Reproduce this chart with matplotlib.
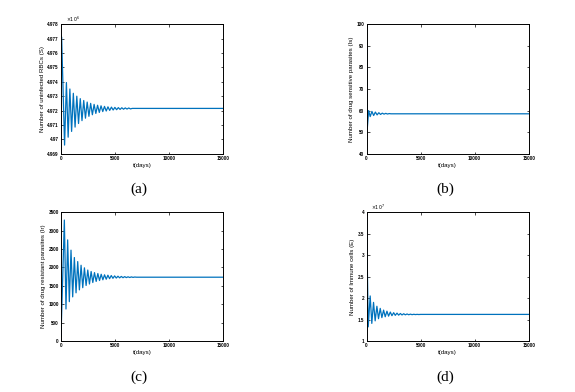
import matplotlib
matplotlib.use("Agg")
import matplotlib.pyplot as plt
from matplotlib.ticker import FuncFormatter

# (a) uninfected RBCs S, read at the turning points of the oscillation
t_s = [0, 60, 330, 500, 660, 820, 980, 1140, 1300, 1460, 1620, 1780, 1940, 2100,
       2260, 2420, 2580, 2740, 2900, 3060, 3220, 3380, 3540, 3700, 3860, 4020,
       4180, 4340, 4500, 4660, 4820, 4980, 5140, 5300, 5460, 5620, 5780, 5940,
       6100, 6260, 6420, 6580, 15000]
s_vals = [4977200, 4977100, 4969600, 4973950, 4970150, 4973500, 4970550, 4973200,
          4970850, 4973000, 4971100, 4972830, 4971300, 4972700, 4971470, 4972590,
          4971600, 4972500, 4971710, 4972430, 4971800, 4972370, 4971870, 4972330,
          4971930, 4972290, 4971970, 4972260, 4972010, 4972240, 4972040, 4972220,
          4972060, 4972205, 4972080, 4972195, 4972095, 4972185, 4972105, 4972180,
          4972115, 4972150, 4972150]

# (b) drug sensitive parasites Is
t_is = [0, 70, 200, 340, 500, 660, 820, 980, 1140, 1300, 1460, 1620, 1780, 1940,
        2100, 2260, 15000]
is_vals = [100, 51.5, 60.0, 57.2, 59.6, 57.7, 59.3, 58.0, 59.0, 58.2, 58.8, 58.35,
           58.7, 58.4, 58.6, 58.5, 58.5]

# (c) drug resistant parasites Ir
t_ir = [0, 310, 460, 615, 770, 925, 1080, 1235, 1390, 1545, 1700, 1855, 2010, 2165,
        2320, 2475, 2630, 2785, 2940, 3095, 3250, 3405, 3560, 3715, 3870, 4025,
        4180, 4335, 4490, 4645, 4800, 4955, 5110, 5265, 5420, 5575, 5730, 5885,
        6040, 6195, 6350, 6505, 6660, 6815, 6970, 15000]
ir_vals = [120, 3290, 870, 2750, 1070, 2470, 1200, 2270, 1310, 2160, 1390, 2060,
           1450, 1990, 1510, 1930, 1550, 1890, 1590, 1860, 1620, 1835, 1645, 1815,
           1665, 1800, 1680, 1790, 1695, 1780, 1705, 1770, 1712, 1762, 1717, 1756,
           1721, 1751, 1724, 1746, 1727, 1743, 1730, 1740, 1735, 1735]

# (d) immune cells E
t_e = [0, 160, 340, 490, 650, 800, 960, 1110, 1270, 1420, 1580, 1730, 1890, 2040,
       2200, 2350, 2510, 2660, 2820, 2970, 3130, 3280, 3440, 3590, 3750, 3900,
       4060, 4210, 4370, 4520, 4680, 4830, 5000, 15000]
e_vals = [4.0e7, 1.33e7, 2.05e7, 1.41e7, 1.90e7, 1.47e7, 1.81e7, 1.52e7, 1.76e7,
          1.545e7, 1.72e7, 1.565e7, 1.695e7, 1.58e7, 1.675e7, 1.59e7, 1.66e7,
          1.598e7, 1.65e7, 1.603e7, 1.641e7, 1.607e7, 1.635e7, 1.61e7, 1.63e7,
          1.612e7, 1.626e7, 1.614e7, 1.623e7, 1.616e7, 1.621e7, 1.617e7, 1.62e7,
          1.62e7]

x_ticks = [0, 5000, 10000, 15000]
LINE = "#0072BD"
W, H = 575, 392

fig = plt.figure(figsize=(W / 100, H / 100), dpi=100)
fig.patch.set_facecolor("white")


def make_panel(rect, t, y, ylim, yticks, ylabel, scale=None):
    ax = fig.add_axes(rect)
    ax.plot(t, y, color=LINE, lw=0.9)
    ax.set_xlim(0, 15000)
    ax.set_ylim(*ylim)
    ax.set_xticks(x_ticks)
    ax.set_yticks(yticks)
    if scale:
        ax.yaxis.set_major_formatter(FuncFormatter(lambda v, p: f"{round(v / 10**scale, 3):g}"))
        ax.text(0.03, 1.0, rf"$\times10^{{{scale}}}$", transform=ax.transAxes,
                fontsize=3.4, ha="left", va="bottom", family="Liberation Sans")
    else:
        ax.yaxis.set_major_formatter(FuncFormatter(lambda v, p: f"{v:g}"))
    ax.tick_params(direction="in", length=1.8, width=0.5, labelsize=3.3, pad=1.5,
                   top=True, right=True)
    for lab in ax.get_xticklabels() + ax.get_yticklabels():
        lab.set_family("Liberation Sans")
        lab.set_fontweight("bold")
    for sp in ax.spines.values():
        sp.set_linewidth(0.7)
    ax.set_xlabel("t(days)", fontsize=4.4, labelpad=1.5, family="Liberation Sans")
    ax.set_ylabel(ylabel, fontsize=4.4, labelpad=2, family="Liberation Sans")
    return ax


ax_w = 162.3 / W
make_panel([61 / W, 1 - 153.7 / H, ax_w, 129.4 / H], t_s, s_vals,
           (4.969e6, 4.978e6), [4.969e6 + i * 1000 for i in range(10)],
           "Number of uninfected RBCs (S)", scale=6)
make_panel([366.5 / W, 1 - 153.7 / H, ax_w, 129.4 / H], t_is, is_vals,
           (40, 100), [40, 50, 60, 70, 80, 90, 100],
           "Number of drug sensitive parasites (Is)")
make_panel([61 / W, 1 - 341 / H, ax_w, 128.7 / H], t_ir, ir_vals,
           (0, 3500), [0, 500, 1000, 1500, 2000, 2500, 3000, 3500],
           "Number of drug resistant parasites (Ir)")
make_panel([366.5 / W, 1 - 341 / H, ax_w, 128.7 / H], t_e, e_vals,
           (1e7, 4e7), [1e7, 1.5e7, 2e7, 2.5e7, 3e7, 3.5e7, 4e7],
           "Number of Immune cells (E)", scale=7)

for label, x, y in [("(a)", 139 / W, 189 / H), ("(b)", 445 / W, 189 / H),
                    ("(c)", 139 / W, 377 / H), ("(d)", 445 / W, 377 / H)]:
    fig.text(x, 1 - y, label, fontsize=11, ha="center", va="center",
             family="Liberation Serif")

fig.savefig("out.png", dpi=100, facecolor="white")
